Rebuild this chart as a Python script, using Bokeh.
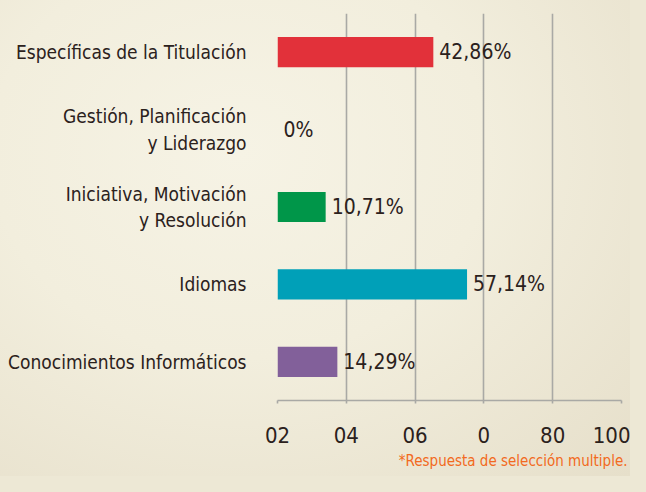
from bokeh.plotting import figure
from bokeh.models import Range1d, FixedTicker, Title, GlobalInlineStyleSheet
from bokeh.core.properties import value
from bokeh.embed import file_html
from bokeh.resources import INLINE

# ---- data ----
categories = ["Específicas de la Titulación",
              "Gestión, Planificación\ny Liderazgo",
              "Iniciativa, Motivación\ny Resolución",
              "Idiomas",
              "Conocimientos Informáticos"]
value_labels = ["42,86%", "0%", "10,71%", "57,14%", "14,29%"]
bar_lengths = [45.3, 0.0, 14.0, 55.1, 17.4]   # as drawn on the chart's axis
bar_colors = ["#e2313a", "#e2313a", "#009649", "#00a0b8", "#82609a"]
tick_values = [0, 20, 40, 60, 80, 100]
tick_labels = ["02", "04", "06", "0", "80", "100"]
footnote = "*Respuesta de selección multiple."

FONT = "DejaVu Sans Condensed, sans-serif"
TXT = "#2b211c"
GRID = "#a9a9a5"

ypos = list(range(len(categories) - 1, -1, -1))

p = figure(width=630, height=476, output_backend="svg", toolbar_location=None,
           x_range=Range1d(0, 100), y_range=Range1d(-0.5, 4.5),
           min_border_left=277, min_border_right=9,
           min_border_top=13, min_border_bottom=76)

p.background_fill_alpha = 0
p.border_fill_alpha = 0
p.outline_line_color = None
p.styles = {"background": "radial-gradient(ellipse at 38% 32%, #f6f3e5 0%, #f2eedd 45%, #e6dfca 100%)"}
p.stylesheets = [GlobalInlineStyleSheet(css="body{background:#ede8d5;}")]

p.hbar(y=ypos, left=0, right=bar_lengths, height=0.39, color=bar_colors, line_color=None)
p.text(x=bar_lengths, y=ypos, text=value_labels, x_offset=6, text_baseline="middle",
       text_align="left", text_font=value(FONT), text_font_size="21px", text_color=TXT)

# x axis
p.xaxis.ticker = FixedTicker(ticks=tick_values)
p.xaxis.major_label_overrides = {v: t for v, t in zip(tick_values, tick_labels)}
p.xaxis.major_label_text_font = FONT
p.xaxis.major_label_text_font_size = "22px"
p.xaxis.major_label_text_color = TXT
p.xaxis.major_label_standoff = 23
p.xaxis.axis_line_color = GRID
p.xaxis.axis_line_width = 1.6
p.xaxis.major_tick_line_color = GRID
p.xaxis.major_tick_line_width = 1.6
p.xaxis.major_tick_in = 0
p.xaxis.major_tick_out = 3
p.xaxis.minor_tick_line_color = None
p.xgrid.grid_line_color = GRID
p.xgrid.grid_line_width = 1.6
p.ygrid.grid_line_color = None

# y axis
p.yaxis.ticker = FixedTicker(ticks=ypos)
p.yaxis.major_label_overrides = {y: c for y, c in zip(ypos, categories)}
p.yaxis.major_label_text_font = FONT
p.yaxis.major_label_text_font_size = "19px"
p.yaxis.major_label_text_color = TXT
p.yaxis.major_label_standoff = 25
p.yaxis.axis_line_color = None
p.yaxis.major_tick_line_color = None
p.yaxis.minor_tick_line_color = None

p.add_layout(Title(text=footnote, align="right", offset=-6, standoff=9,
                   text_font=FONT, text_font_size="15px", text_font_style="normal",
                   text_color="#f26a21"), "below")

open("out.html", "w").write(file_html(p, INLINE))
